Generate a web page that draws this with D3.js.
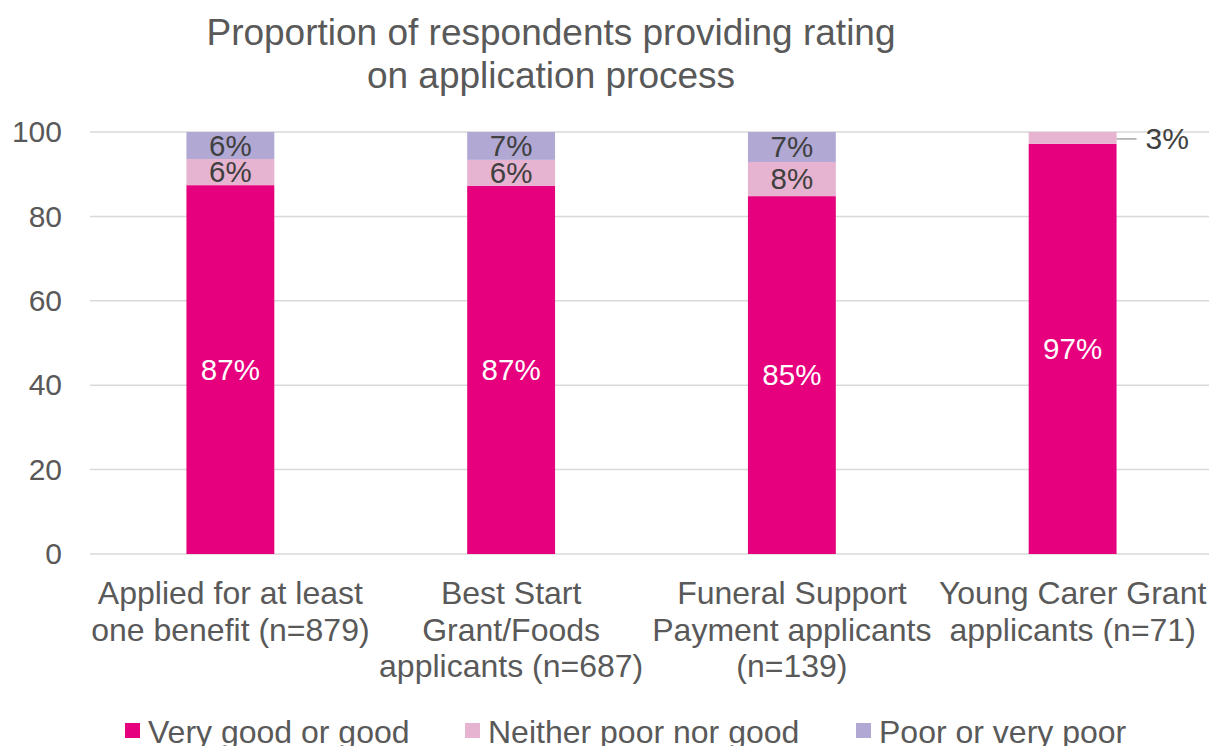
<!DOCTYPE html>
<html>
<head>
<meta charset="utf-8">
<script src="https://cdn.jsdelivr.net/npm/d3@7"></script>
<style>
  html, body { margin: 0; padding: 0; background: #fff; }
  svg { display: block; font-family: "Liberation Sans", Arial, sans-serif; }
</style>
</head>
<body>
<svg id="chart" width="1209" height="746"></svg>
<script>
// Groups of respondents (each label split over lines)
const categories = [
  ["Applied for at least", "one benefit (n=879)"],
  ["Best Start", "Grant/Foods", "applicants (n=687)"],
  ["Funeral Support", "Payment applicants", "(n=139)"],
  ["Young Carer Grant", "applicants (n=71)"]
];
const seriesNames = ["Very good or good", "Neither poor nor good", "Poor or very poor"];
const veryGood = [87.4, 87.2, 84.8, 97.2];
const neither  = [6.2, 6.2, 8.1, 2.8];
const poor     = [6.4, 6.6, 7.1, 0];
const yTicks = [0, 20, 40, 60, 80, 100];
const colors = ["#e6007e", "#e6b4d0", "#b1a8d4"];
const labelColors = ["#ffffff", "#404040", "#404040"];

const svg = d3.select("#chart");
const margin = { left: 90, right: -4, top: 132, bottom: 192 };
const W = 1209, H = 746;

const x = d3.scaleBand()
  .domain(d3.range(categories.length))
  .range([margin.left, W - margin.right])
  .paddingInner(0.687)
  .paddingOuter(0.3435);

const y = d3.scaleLinear().domain([0, 100]).range([H - margin.bottom, margin.top]);

// Title
svg.append("text")
  .attr("text-anchor", "middle")
  .attr("fill", "#595959")
  .style("font-size", "37px")
  .selectAll("tspan")
  .data(["Proportion of respondents providing rating", "on application process"])
  .join("tspan")
  .attr("x", 551)
  .attr("y", (d, i) => 45 + i * 43)
  .text(d => d);

// Gridlines
svg.append("g")
  .selectAll("line")
  .data(yTicks)
  .join("line")
  .attr("x1", margin.left).attr("x2", W)
  .attr("y1", d => y(d)).attr("y2", d => y(d))
  .attr("stroke", "#d9d9d9").attr("stroke-width", 1.5);

// Y axis labels
const yAxis = d3.axisLeft(y).tickValues(yTicks).tickSize(0).tickPadding(28);
const gy = svg.append("g").attr("transform", `translate(${margin.left},0)`).call(yAxis);
gy.select(".domain").remove();
gy.selectAll("text")
  .attr("fill", "#595959")
  .style("font-size", "30px")
  .style("font-family", "'Liberation Sans', Arial, sans-serif");

// Stack the series
const rows = categories.map((c, i) => ({ i, a: veryGood[i], b: neither[i], c: poor[i] }));
const stack = d3.stack().keys(["a", "b", "c"]);
const layers = stack(rows);

const gBars = svg.append("g");
layers.forEach((layer, li) => {
  gBars.selectAll(null)
    .data(layer)
    .join("rect")
    .attr("x", d => x(d.data.i))
    .attr("width", x.bandwidth())
    .attr("y", d => y(d[1]))
    .attr("height", d => Math.max(0, y(d[0]) - y(d[1])))
    .attr("fill", colors[li]);
});

// Data labels
layers.forEach((layer, li) => {
  layer.forEach(d => {
    const v = d[1] - d[0];
    if (v <= 0) return;
    const label = Math.round(v) + "%";
    if (v < 4) {
      // small segment: label to the right with a leader line
      const yc = y((d[0] + d[1]) / 2) + 1;
      const x0 = x(d.data.i) + x.bandwidth();
      svg.append("line")
        .attr("x1", x0).attr("x2", x0 + 20)
        .attr("y1", yc).attr("y2", yc)
        .attr("stroke", "#a6a6a6").attr("stroke-width", 1.5);
      svg.append("text")
        .attr("x", x0 + 29).attr("y", yc)
        .attr("dy", "0.35em")
        .attr("fill", "#404040")
        .style("font-size", "30px")
        .text(label);
    } else {
      svg.append("text")
        .attr("x", x(d.data.i) + x.bandwidth() / 2)
        .attr("y", y((d[0] + d[1]) / 2))
        .attr("dy", "0.35em")
        .attr("text-anchor", "middle")
        .attr("fill", labelColors[li])
        .style("font-size", "29.5px")
        .text(label);
    }
  });
});

// Category labels
const gx = svg.append("g");
categories.forEach((lines, i) => {
  const t = gx.append("text")
    .attr("text-anchor", "middle")
    .attr("fill", "#595959")
    .style("font-size", "32px");
  lines.forEach((ln, j) => {
    t.append("tspan")
      .attr("x", x(i) + x.bandwidth() / 2)
      .attr("y", 604 + j * 36.5)
      .text(ln);
  });
});

// Legend
const legendX = [125, 465, 856];
const lg = svg.append("g");
seriesNames.forEach((name, i) => {
  lg.append("rect")
    .attr("x", legendX[i]).attr("y", 723)
    .attr("width", 15).attr("height", 15)
    .attr("fill", colors[i]);
  lg.append("text")
    .attr("x", legendX[i] + 23).attr("y", 743)
    .attr("fill", "#595959")
    .style("font-size", "32px")
    .text(name);
});
</script>
</body>
</html>
